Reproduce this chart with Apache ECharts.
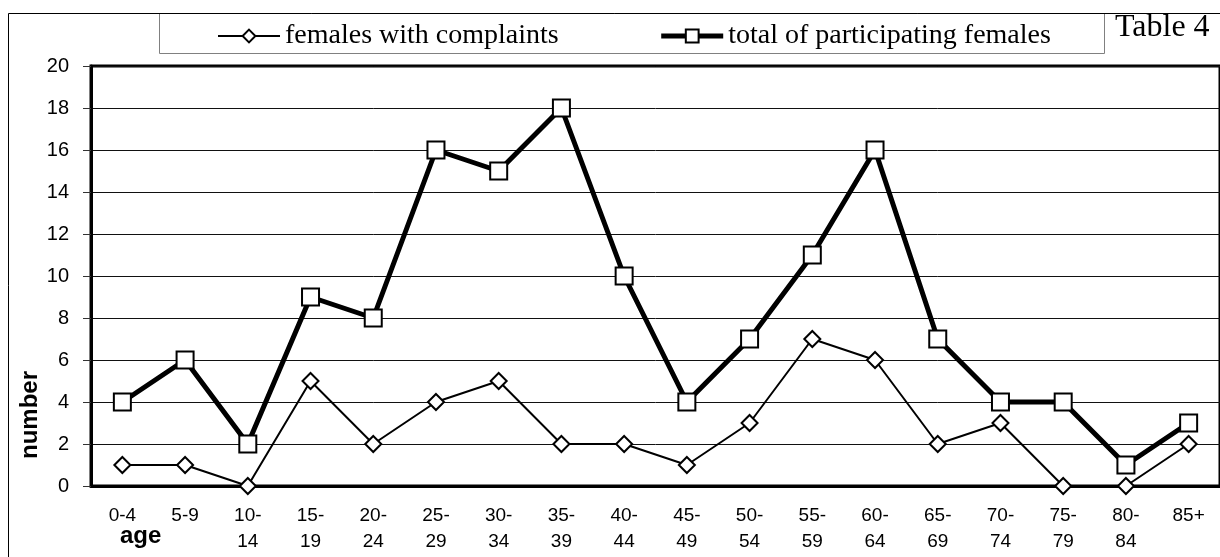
<!DOCTYPE html>
<html>
<head>
<meta charset="utf-8">
<script src="https://cdn.jsdelivr.net/npm/echarts@6/dist/echarts.min.js"></script>
<style>
  html, body { margin: 0; padding: 0; background: #fff; }
  #chart { width: 1220px; height: 557px; }
</style>
</head>
<body>
<div id="chart"></div>
<script>
// age groups
var ageGroups = ["0-4", "5-9", "10-\n14", "15-\n19", "20-\n24", "25-\n29", "30-\n34", "35-\n39", "40-\n44",
    "45-\n49", "50-\n54", "55-\n59", "60-\n64", "65-\n69", "70-\n74", "75-\n79", "80-\n84", "85+"];
// values
var withComplaints = [1, 1, 0, 5, 2, 4, 5, 2, 2, 1, 3, 7, 6, 2, 3, 0, 0, 2];
var totalFemales = [4, 6, 2, 9, 8, 16, 15, 18, 10, 4, 7, 11, 16, 7, 4, 4, 1, 3];

var myChart = echarts.init(document.getElementById("chart"));

var sans = "'Liberation Sans', Arial, sans-serif";
var serif = "'Liberation Serif', 'Times New Roman', serif";

var option = {
    backgroundColor: "#fff",
    animation: false,
    legend: {
        data: [
            { name: "females with complaints", lineStyle: { width: 2, color: "#000" } },
            { name: "total of participating females", lineStyle: { width: 5, color: "#000" } }
        ],
        left: 212,
        top: 17,
        itemWidth: 62,
        itemHeight: 16,
        itemGap: 100,
        textStyle: { fontFamily: serif, fontSize: 28, color: "#000" }
    },
    grid: {
        left: 91,
        top: 66,
        width: 1134,
        height: 420,
        show: true,
        borderColor: "#000",
        borderWidth: 3
    },
    xAxis: {
        type: "category",
        data: ageGroups,
        boundaryGap: true,
        axisLine: { lineStyle: { color: "#000", width: 3 } },
        axisTick: { length: 7, lineStyle: { color: "#555", width: 1 } },
        axisLabel: {
            interval: 0,
            margin: 17,
            color: "#000",
            fontFamily: sans,
            fontSize: 19,
            lineHeight: 26
        },
        splitLine: { show: false }
    },
    yAxis: {
        type: "value",
        min: 0,
        max: 20,
        interval: 2,
        axisLine: { show: true, lineStyle: { color: "#000", width: 3 } },
        axisTick: { show: true, length: 8, lineStyle: { color: "#333", width: 1 } },
        axisLabel: { margin: 22, color: "#000", fontFamily: sans, fontSize: 20 },
        splitLine: { lineStyle: { color: "#111", width: 1 } }
    },
    series: [
        {
            name: "total of participating females",
            type: "line",
            data: totalFemales,
            symbol: "rect",
            symbolSize: 17,
            showAllSymbol: true,
            lineStyle: { color: "#000", width: 5 },
            itemStyle: { color: "#fff", borderColor: "#000", borderWidth: 2 },
            z: 2
        },
        {
            name: "females with complaints",
            type: "line",
            data: withComplaints,
            symbol: "diamond",
            symbolSize: 16,
            showAllSymbol: true,
            lineStyle: { color: "#000", width: 2 },
            itemStyle: { color: "#fff", borderColor: "#000", borderWidth: 2 },
            z: 3
        }
    ],
    graphic: [
        // outer frame (cut off at right and bottom)
        { type: "line", shape: { x1: 8.5, y1: 13.5, x2: 1240, y2: 13.5 }, style: { stroke: "#000", lineWidth: 1 } },
        { type: "line", shape: { x1: 8.5, y1: 13.5, x2: 8.5, y2: 570 }, style: { stroke: "#000", lineWidth: 1 } },
        // legend box
        { type: "rect", shape: { x: 159.5, y: 13.5, width: 945, height: 40 }, style: { fill: null, stroke: "#808080", lineWidth: 1 }, z: -1 },
        { type: "text", left: 1115, top: 12, style: { text: "Table 4", font: "32px " + serif, fill: "#000" } },
        // axis titles
        { type: "text", left: 120, top: 524, style: { text: "age", font: "bold 24px " + sans, fill: "#000" } },
        { type: "text", x: 30, y: 415, rotation: Math.PI / 2,
          style: { text: "number", font: "bold 24px " + sans, fill: "#000", align: "center", verticalAlign: "middle" } }
    ]
};

myChart.setOption(option);
</script>
</body>
</html>
